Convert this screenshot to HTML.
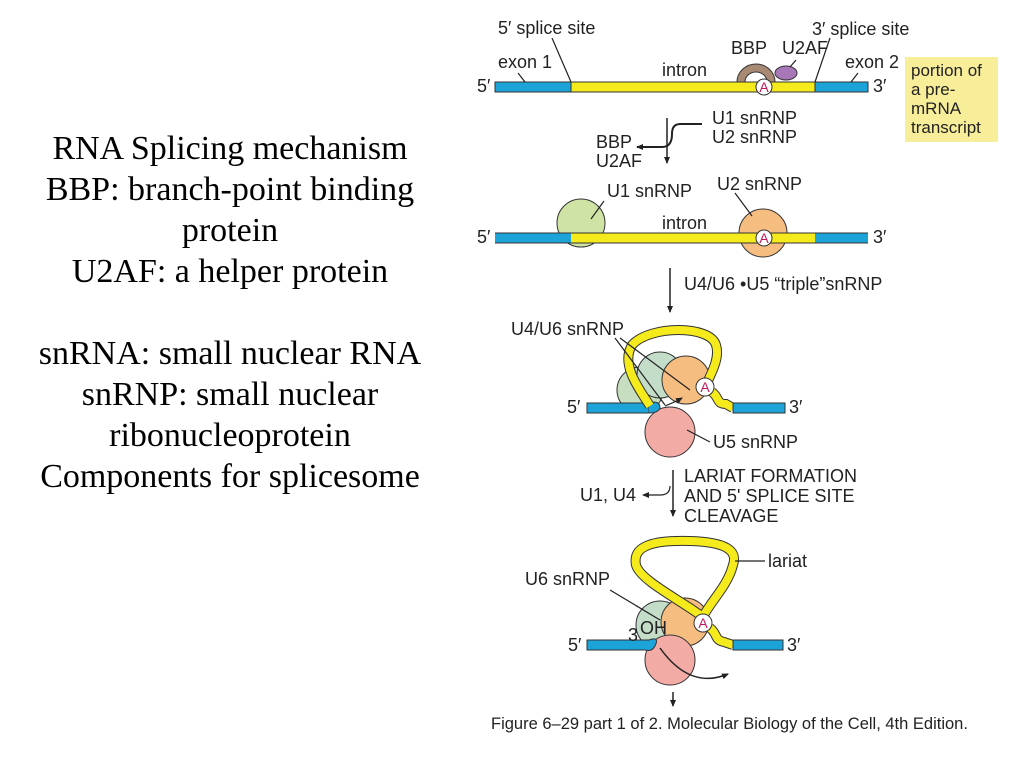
<!DOCTYPE html>
<html><head><meta charset="utf-8"><style>
html,body{margin:0;padding:0;background:#fff;}
svg{display:block}
.l{font-family:"Liberation Serif",serif;font-size:34px;fill:#000;text-anchor:middle}
.s{font-family:"Liberation Sans",sans-serif;font-size:18px;fill:#222}
</style></head><body>
<svg width="1024" height="768" viewBox="0 0 1024 768" xmlns="http://www.w3.org/2000/svg">
<defs><marker id="ah" markerWidth="8" markerHeight="8" refX="6" refY="4" orient="auto" markerUnits="userSpaceOnUse"><path d="M0,1 L7,4 L0,7 Z" fill="#222"/></marker></defs>
<g class="l">
<text x="230" y="159">RNA Splicing mechanism</text>
<text x="230" y="200">BBP: branch-point binding</text>
<text x="230" y="241">protein</text>
<text x="230" y="282">U2AF: a helper protein</text>
<text x="230" y="364">snRNA: small nuclear RNA</text>
<text x="230" y="405">snRNP: small nuclear</text>
<text x="230" y="446">ribonucleoprotein</text>
<text x="230" y="487">Components for splicesome</text>
</g>
<g stroke="#333" stroke-width="1">
<rect x="495" y="82" width="76" height="10" fill="#1ca3d8"/>
<rect x="571" y="82" width="244" height="10" fill="#f4ea1c"/>
<rect x="815" y="82" width="53" height="10" fill="#1ca3d8"/>
<path d="M737,82 A19,18 0 0 1 775,82 L767,82 A11,10 0 0 0 745,82 Z" fill="#a88a74"/>
<ellipse cx="786" cy="73" rx="11" ry="7" fill="#a877b8"/>
<circle cx="764" cy="87" r="8" fill="#fff"/>
<circle cx="581" cy="223" r="24" fill="#cfe3a4"/>
<circle cx="763" cy="233" r="24" fill="#f5bd80"/>
<rect x="495" y="233" width="76" height="10" fill="#1ca3d8" stroke="none"/>
<rect x="571" y="233" width="244" height="10" fill="#f4ea1c" stroke="none"/>
<rect x="815" y="233" width="53" height="10" fill="#1ca3d8" stroke="none"/>
<line x1="495" y1="233" x2="868" y2="233"/><line x1="495" y1="243" x2="868" y2="243"/>
<circle cx="764" cy="238" r="8" fill="#fff"/>
<circle cx="640" cy="390" r="23" fill="#c7dfc0"/>
<circle cx="660" cy="375" r="23" fill="#c4ddc8"/>
<circle cx="686" cy="380" r="24" fill="#f5bd80"/>
<circle cx="670" cy="432" r="25" fill="#f3aba6"/>
<rect x="587" y="403" width="62" height="10" fill="#1ca3d8"/>
<path d="M649,403 Q660,400 660,408 Q658,413 649,413" fill="#1ca3d8"/>
<path d="M650,406 C640,390 620,365 632,345 C650,325 710,325 716,345 C720,358 712,372 705,387" fill="none" stroke="#333" stroke-width="10"/>
<path d="M650,406 C640,390 620,365 632,345 C650,325 710,325 716,345 C720,358 712,372 705,387" fill="none" stroke="#f4ea1c" stroke-width="8"/>
<path d="M712,392 C720,398 716,404 726,404 L733,408" fill="none" stroke="#333" stroke-width="10"/>
<path d="M712,392 C720,398 716,404 726,404 L733,408" fill="none" stroke="#f4ea1c" stroke-width="8"/>
<rect x="733" y="403" width="52" height="10" fill="#1ca3d8"/>
<circle cx="705" cy="387" r="9" fill="#fff"/>
<circle cx="660" cy="625" r="24" fill="#c4ddc8"/>
<circle cx="685" cy="622" r="24" fill="#f5bd80"/>
<circle cx="670" cy="660" r="25" fill="#f3aba6"/>
<rect x="587" y="640" width="62" height="10" fill="#1ca3d8"/>
<path d="M649,640 Q660,636 655,646 Q652,652 645,650" fill="#1ca3d8"/>
<path d="M700,615 C680,600 640,580 636,565 C632,545 655,540 690,541 C725,542 738,550 733,565 C728,585 712,600 704,615" fill="none" stroke="#333" stroke-width="10"/>
<path d="M700,615 C680,600 640,580 636,565 C632,545 655,540 690,541 C725,542 738,550 733,565 C728,585 712,600 704,615" fill="none" stroke="#f4ea1c" stroke-width="8"/>
<path d="M710,628 C718,634 714,640 724,642 L733,645" fill="none" stroke="#333" stroke-width="10"/>
<path d="M710,628 C718,634 714,640 724,642 L733,645" fill="none" stroke="#f4ea1c" stroke-width="8"/>
<rect x="733" y="640" width="50" height="10" fill="#1ca3d8"/>
<circle cx="703" cy="623" r="9" fill="#fff"/>
</g>
<g fill="#c2185b" font-family="Liberation Sans,sans-serif" font-size="14" text-anchor="middle">
<text x="764" y="92">A</text><text x="764" y="243">A</text><text x="705" y="392">A</text><text x="703" y="628">A</text>
</g>
<g stroke="#222" stroke-width="1.2" fill="none">
<line x1="552" y1="38" x2="571" y2="82"/>
<line x1="830" y1="38" x2="815" y2="82"/>
<line x1="518" y1="73" x2="525" y2="82"/>
<line x1="858" y1="73" x2="851" y2="82"/>
<line x1="796" y1="60" x2="790" y2="67"/>
<line x1="604" y1="201" x2="591" y2="219"/>
<line x1="735" y1="193" x2="752" y2="216"/>
<line x1="667" y1="118" x2="667" y2="163" marker-end="url(#ah)" stroke-width="1.5"/>
<path d="M702,124 L680,124 Q672,124 672,134 Q672,147 662,147 L637,147" marker-end="url(#ah)" stroke-width="2"/>
<line x1="670" y1="268" x2="670" y2="312" marker-end="url(#ah)" stroke-width="1.5"/>
<line x1="615" y1="338" x2="665" y2="405"/>
<line x1="620" y1="338" x2="690" y2="390"/>
<line x1="687" y1="430" x2="710" y2="442"/>
<path d="M665,406 Q675,402 682,398" marker-end="url(#ah)"/>
<line x1="673" y1="470" x2="673" y2="516" marker-end="url(#ah)" stroke-width="1.5"/>
<path d="M670,486 Q670,495 660,495 L643,495" marker-end="url(#ah)"/>
<line x1="735" y1="561" x2="765" y2="561"/>
<line x1="610" y1="590" x2="660" y2="620"/>
<path d="M660,648 Q690,690 728,674" marker-end="url(#ah)" stroke-width="1.5"/>
<line x1="673" y1="692" x2="673" y2="706" marker-end="url(#ah)" stroke-width="1.5"/>
</g>
<rect x="905" y="57" width="93" height="85" fill="#f8ee9a"/>
<g class="s">
<text x="498" y="34">5′ splice site</text>
<text x="812" y="35">3′ splice site</text>
<text x="498" y="68">exon 1</text>
<text x="662" y="76">intron</text>
<text x="731" y="54">BBP</text>
<text x="782" y="54">U2AF</text>
<text x="845" y="68">exon 2</text>
<text x="477" y="92">5′</text><text x="873" y="92">3′</text>
<text x="911" y="76" font-size="17">portion of</text>
<text x="911" y="95" font-size="17">a pre-</text>
<text x="911" y="114" font-size="17">mRNA</text>
<text x="911" y="133" font-size="17">transcript</text>
<text x="712" y="124">U1 snRNP</text>
<text x="712" y="143">U2 snRNP</text>
<text x="596" y="148">BBP</text>
<text x="596" y="167">U2AF</text>
<text x="607" y="197">U1 snRNP</text>
<text x="717" y="190">U2 snRNP</text>
<text x="662" y="229">intron</text>
<text x="477" y="243">5′</text><text x="873" y="243">3′</text>
<text x="684" y="290">U4/U6 •U5 “triple”snRNP</text>
<text x="511" y="335">U4/U6 snRNP</text>
<text x="567" y="413">5′</text><text x="789" y="413">3′</text>
<text x="713" y="448">U5 snRNP</text>
<text x="684" y="482">LARIAT FORMATION</text>
<text x="684" y="502">AND 5' SPLICE SITE</text>
<text x="684" y="522">CLEAVAGE</text>
<text x="580" y="501">U1, U4</text>
<text x="768" y="567">lariat</text>
<text x="525" y="585">U6 snRNP</text>
<text x="628" y="641">3</text><text x="640" y="634" font-size="18">OH</text>
<text x="568" y="651">5′</text><text x="787" y="651">3′</text>
<text x="491" y="729" font-size="16.5">Figure 6–29 part 1 of 2. Molecular Biology of the Cell, 4th Edition.</text>
</g>
</svg>
</body></html>
